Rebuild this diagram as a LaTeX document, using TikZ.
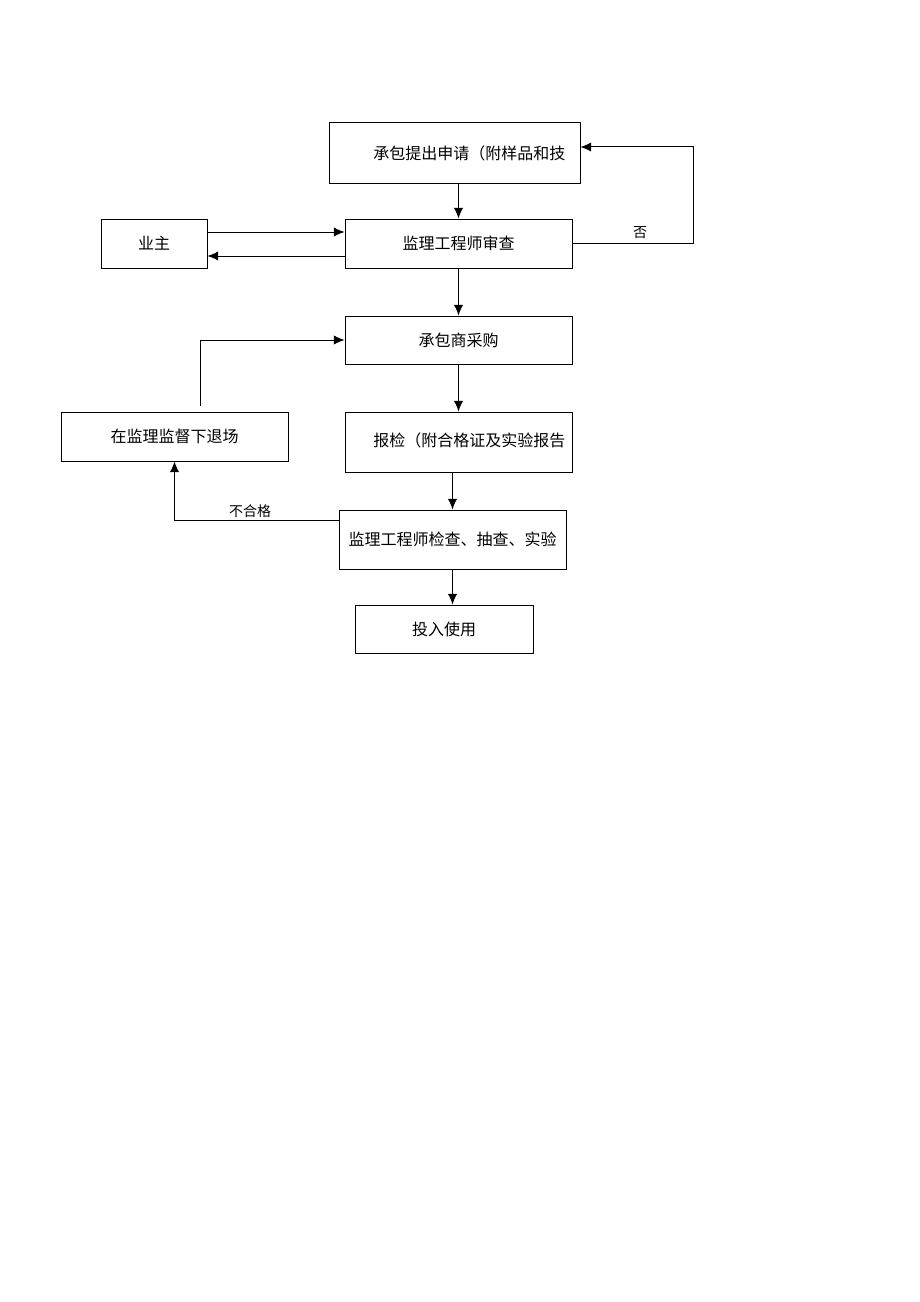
\documentclass[tikz,border=0pt]{standalone}
\usepackage{fontspec}
\setmainfont{Noto Sans CJK SC}
\usepackage{tikz}
\usetikzlibrary{arrows.meta}

\tikzset{
    box/.style={draw, line width=0.75pt, inner sep=0pt, font=\fontsize{12}{14}\selectfont},
    arr/.style={line width=0.75pt, -{Latex[length=8pt,width=7pt]}},
    lbl/.style={font=\fontsize{10.5}{12}\selectfont, inner sep=0pt}
}

\begin{document}
\begin{tikzpicture}[x=0.75pt, y=-0.75pt]
    \useasboundingbox (0,0) rectangle (920,1302);

    \node[box, minimum width=188.25pt, minimum height=45pt] (req) at (454.5,153) {};
    \node[anchor=west, font=\fontsize{12}{14}\selectfont, inner sep=0pt] (reqtxt) at (373,153) {承包提出申请（附样品和技};
    \node[box, minimum width=170.25pt, minimum height=36.75pt] (rev) at (458.5,243.5) {\raisebox{-2pt}{监理工程师审查}};
    \node[box, minimum width=79.5pt, minimum height=36.75pt] (own) at (154,243.5) {\raisebox{-2pt}{业主}};
    \node[box, minimum width=170.25pt, minimum height=36pt] (buy) at (458.5,340) {\raisebox{-2pt}{承包商采购}};
    \node[box, minimum width=170.25pt, minimum height=45pt] (chk) at (458.5,442) {};
    \node[anchor=west, font=\fontsize{12}{14}\selectfont, inner sep=0pt] (chktxt) at (373,440) {报检（附合格证及实验报告};
    \node[box, minimum width=170.25pt, minimum height=44.25pt] (test) at (452.5,539.5) {监理工程师检查、抽查、实验};
    \node[box, minimum width=133.5pt, minimum height=36pt] (use) at (444,629) {\raisebox{-2pt}{投入使用}};
    \node[box, minimum width=170.25pt, minimum height=36.75pt] (out) at (174.5,436.5) {\raisebox{-2pt}{在监理监督下退场}};

    \coordinate (outtop) at (200,406);

    % main flow
    \draw[arr] (rev.north |- req.south) -- (rev.north);
    \draw[arr] (rev.south) -- (buy.north);
    \draw[arr] (buy.south) -- (chk.north);
    \draw[arr] (chk.south -| test.north) -- (test.north);
    \draw[arr] (test.south) -- (test.south |- use.north);

    % owner
    \draw[arr] (own.east |- 0,232) -- (rev.west |- 0,232);
    \draw[arr] (rev.west |- 0,256) -- (own.east |- 0,256);

    % rejections
    \draw[arr] (rev.east) -| (693,147) -- (req.east |- 0,147);
    \node[lbl] (no) at (640,233) {否};
    \draw[arr] (test.west |- 0,520) -| (out.south);
    \node[lbl] (fail) at (250,511) {不合格};
    \draw[arr] (outtop) |- (buy.west);
\end{tikzpicture}
\end{document}
